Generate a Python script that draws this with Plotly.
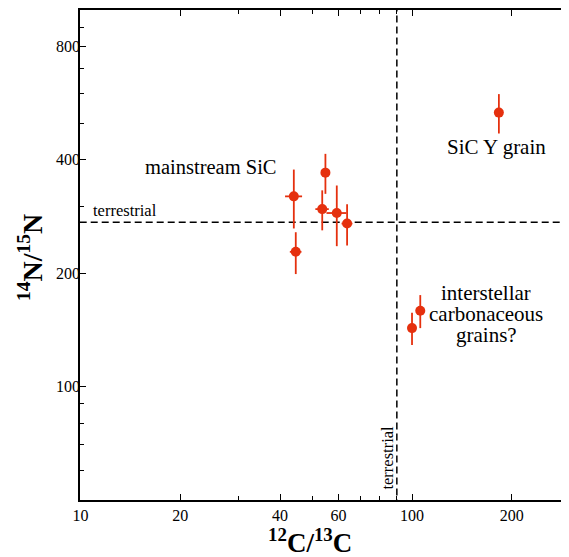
import plotly.graph_objects as go
import math

# ---- data ----
ms_c = [44.0, 44.6, 54.8, 53.6, 59.3, 63.7]          # 12C/13C mainstream SiC
ms_c_err = [2.6, 1.8, 0.0, 2.5, 4.1, 2.4]
ms_n = [320, 228, 370, 296, 289, 271]                 # 14N/15N
ms_n_err = [57, 29, 45, 36, 53, 34]

y_c = [182.8]
y_n = [534]
y_n_err = [64]

is_c = [100.0, 105.9]
is_n = [143, 159]
is_n_err = [14, 16]

terr_c = 90
terr_n = 273

x_major = [10, 20, 40, 60, 100, 200]
x_minor = [30, 50, 70, 80, 90]
y_major = [100, 200, 400, 800]
y_minor = [60, 70, 80, 90, 300, 500, 600, 700, 900]

RED = "#e5300e"
FONT = "Liberation Serif"

fig = go.Figure()

# reference lines
fig.add_trace(go.Scatter(x=[5, 1000], y=[terr_n, terr_n], mode="lines",
                         line=dict(color="black", width=1.5, dash="7px,4px"),
                         hoverinfo="skip", showlegend=False))
fig.add_trace(go.Scatter(x=[terr_c, terr_c], y=[30, 2000], mode="lines",
                         line=dict(color="black", width=1.5, dash="7px,4px"),
                         hoverinfo="skip", showlegend=False))

def pts(x, y, ex, ey):
    fig.add_trace(go.Scatter(
        x=x, y=y, mode="markers",
        marker=dict(color=RED, size=10, line=dict(width=0)),
        error_x=dict(type="data", array=ex, color=RED, thickness=1.8, width=0, visible=True),
        error_y=dict(type="data", array=ey, color=RED, thickness=1.8, width=0, visible=True),
        showlegend=False, cliponaxis=False))

pts(ms_c, ms_n, ms_c_err, ms_n_err)
pts(y_c, y_n, [0], y_n_err)
pts(is_c, is_n, [0, 0], is_n_err)

# page has an 8px body margin: figure origin sits at (8, 8) of the window
OFF = 8
W, H = 561, 549
PL, PR, PT, PB = 80, 568, 8, 500          # plot area in window pixels
L, R, T, B = PL - OFF, OFF + W - PR, PT - OFF, OFF + H - PB
pw, ph = PR - PL, PB - PT
DEC_X = 332.2                              # px per decade on x

def px(xp):
    return (xp - PL) / pw

def py(yp):
    return (PB - yp) / ph

def note(text, xw, yw, size, angle=0, h=None):
    kw = {}
    if h is not None:
        kw["height"] = h
    fig.add_annotation(text=text, x=px(xw), y=py(yw), xref="paper", yref="paper",
                       showarrow=False, textangle=angle,
                       font=dict(family=FONT, size=size, color="black"),
                       xanchor="center", yanchor="middle", **kw)

note("mainstream SiC", 211, 166, 20.5)
note("SiC Y grain", 497, 146, 21)
note("interstellar", 487, 292, 21, h=17)
note("carbonaceous", 487, 313, 21, h=17)
note("grains?", 487, 334, 21, h=24)
note("terrestrial", 125, 209, 16.5)
note("terrestrial", 388, 457, 16.5, -90)
note("<b><sup>12</sup>C/<sup>13</sup>C</b>", 310, 541, 27)
note("<b><sup>14</sup>N/<sup>15</sup>N</b>", 31, 257, 28, -90)

axis_common = dict(
    type="log", showgrid=False, zeroline=False,
    showline=True, linecolor="black", linewidth=1.5, mirror="ticks",
    ticks="inside", ticklen=6, tickwidth=1.3, tickcolor="black",
    tickmode="array",
    tickfont=dict(family=FONT, size=16, color="black"),
)

x0 = 1 - 0.5 / DEC_X
fig.update_layout(
    width=W, height=H,
    margin=dict(l=L, r=R, t=T, b=B, pad=0),
    paper_bgcolor="white", plot_bgcolor="white",
    xaxis=dict(**axis_common,
               range=[x0, x0 + pw / DEC_X],
               tickvals=x_major, ticktext=[str(v) for v in x_major],
               minor=dict(tickmode="array", tickvals=x_minor, ticks="inside",
                          ticklen=4, tickwidth=1.3, tickcolor="black")),
    yaxis=dict(**axis_common,
               range=[math.log10(50), math.log10(1000)],
               tickvals=y_major, ticktext=[str(v) for v in y_major],
               ticklabelstandoff=-5,
               minor=dict(tickmode="array", tickvals=y_minor, ticks="inside",
                          ticklen=4, tickwidth=1.3, tickcolor="black")),
)

fig.write_html("out.html")
